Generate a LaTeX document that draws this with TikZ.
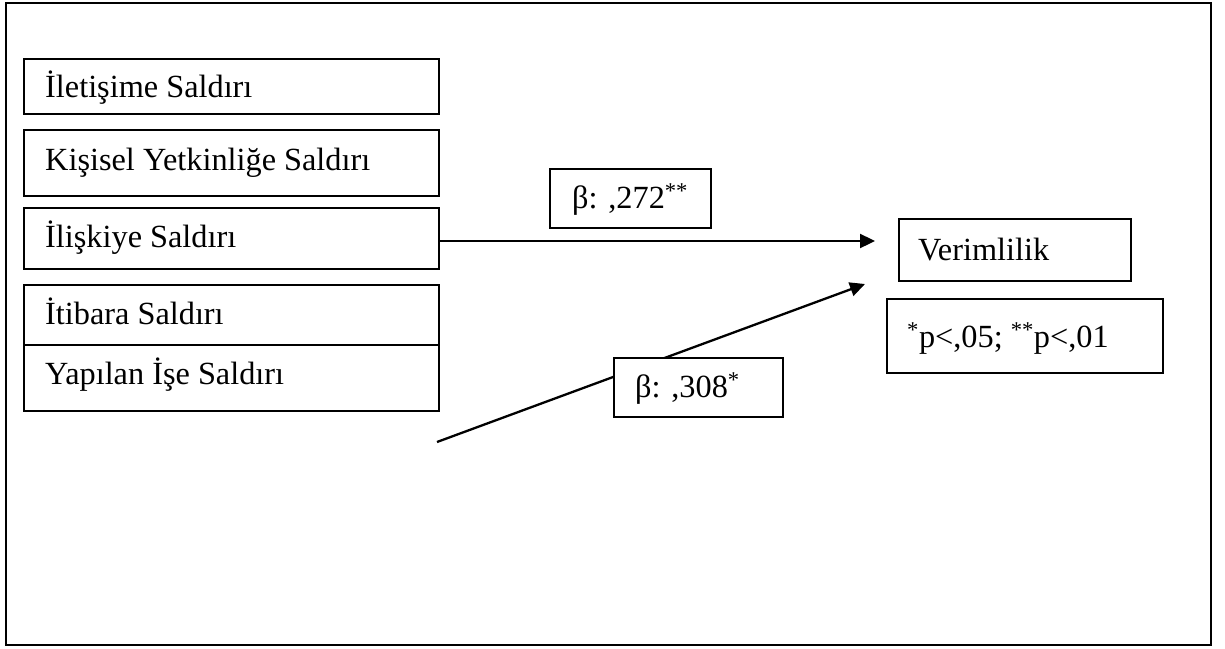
\documentclass[tikz,border=0pt]{standalone}
\usepackage{fontspec}
\setmainfont{Liberation Serif}
\usetikzlibrary{arrows.meta}
\begin{document}
\begin{tikzpicture}[x=1pt,y=-1pt,
  box/.style={draw,line width=1.5pt,rectangle,inner sep=0pt,anchor=north west,fill=white},
  lbl/.style={anchor=base west,inner sep=0pt,font=\fontsize{32.3}{37}\selectfont},
  arr/.style={line width=2.3pt,-{Triangle[length=15pt,width=14pt]}}]
\useasboundingbox (0,0) rectangle (1225,648);
\draw[line width=2.3pt] (6,3) rectangle (1211,645);
% left boxes
\node[box,minimum width=415pt,minimum height=55pt] (b1) at (23,58) {};
\node[lbl] (t1) at (45,97) {İletişime Saldırı};
\node[box,minimum width=415pt,minimum height=66pt] (b2) at (23,129) {};
\node[lbl] (t2) at (45,170) {Kişisel Yetkinliğe Saldırı};
\node[box,minimum width=415pt,minimum height=61pt] (b3) at (23,207) {};
\node[lbl] (t3) at (45,247) {İlişkiye Saldırı};
\node[box,minimum width=415pt,minimum height=60pt] (b4) at (23,284) {};
\node[lbl] (t4) at (45,324) {İtibara Saldırı};
\node[box,minimum width=415pt,minimum height=66pt] (b5) at (23,344) {};
\node[lbl] (t5) at (45,384) {Yapılan İşe Saldırı};
% right boxes
\node[box,minimum width=232pt,minimum height=62pt] (v) at (898,218) {};
\node[lbl] (tv) at (918,260) {Verimlilik};
\node[box,minimum width=276pt,minimum height=74pt] (p) at (886,298) {};
\node[lbl] (tp) at (907,347) {\textsuperscript{*}p<,05; \textsuperscript{**}p<,01};
% arrows
\coordinate (a1s) at (438,241);
\coordinate (a1e) at (875,241);
\coordinate (a2s) at (437,442);
\coordinate (a2e) at (865,284);
\draw[arr] (a1s) -- (a1e);
\draw[arr] (a2s) -- (a2e);
% beta boxes
\node[box,minimum width=161pt,minimum height=59pt] (k1) at (549,168) {};
\node[lbl] (tk1) at (572,208) {β: ,272\textsuperscript{**}};
\node[box,minimum width=169pt,minimum height=59pt] (k2) at (613,357) {};
\node[lbl] (tk2) at (635,397) {β: ,308\textsuperscript{*}};
\end{tikzpicture}
\end{document}
